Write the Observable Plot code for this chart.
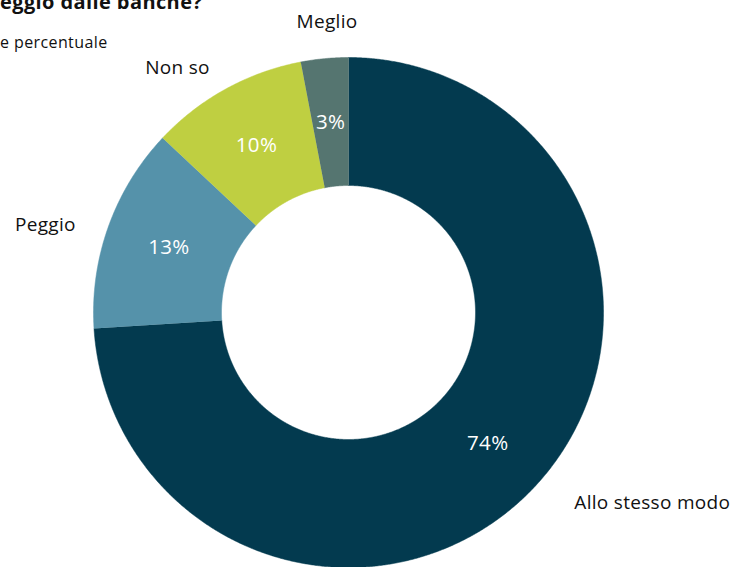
<!DOCTYPE html>
<html>
<head>
<meta charset="utf-8">
<script src="https://cdn.jsdelivr.net/npm/d3@7"></script>
<script src="https://cdn.jsdelivr.net/npm/@observablehq/plot@0.6"></script>
<style>
  html, body { margin: 0; padding: 0; background: #fff; overflow: hidden; width: 736px; height: 567px; }
  #wrap { position: relative; width: 736px; height: 567px; font-family: "Open Sans", sans-serif; }
  #chart { position: absolute; left: 0; top: 0; }
  .title { position: absolute; left: 0; top: -12px; font-size: 20px; letter-spacing: 0.4px; font-weight: bold; color: #111; white-space: nowrap; }
  .subtitle { position: absolute; left: 0; top: 31px; font-size: 16px; letter-spacing: 0.4px; color: #111; white-space: nowrap; }
</style>
</head>
<body>
<div id="wrap">
  <div id="chart"></div>
  <div class="title">eggio dalle banche?</div>
  <div class="subtitle">e percentuale</div>
</div>
<script>
const categories = ["Allo stesso modo", "Peggio", "Non so", "Meglio"];
const values = [74, 13, 10, 3];
const valueLabels = ["74%", "13%", "10%", "3%"];
const colors = ["#033a4f", "#5592aa", "#bfcf41", "#557570"];

const W = 736, H = 567;
const R = 255, r0 = 127, rMid = 191, rOut = 292;

const pie = d3.pie().sort(null).value(d => d)(values);

const poly = [];
pie.forEach((p, i) => {
  const n = Math.max(12, Math.ceil((p.endAngle - p.startAngle) * 200));
  for (let k = 0; k <= n; k++) {
    const a = p.startAngle + (p.endAngle - p.startAngle) * k / n;
    poly.push({cat: categories[i], x: R * Math.sin(a), y: -R * Math.cos(a)});
  }
  for (let k = n; k >= 0; k--) {
    const a = p.startAngle + (p.endAngle - p.startAngle) * k / n;
    poly.push({cat: categories[i], x: r0 * Math.sin(a), y: -r0 * Math.cos(a)});
  }
});

const lab = pie.map((p, i) => {
  const a = (p.startAngle + p.endAngle) / 2;
  const s = Math.sin(a), c = Math.cos(a);
  return {
    cat: categories[i], txt: valueLabels[i],
    mx: rMid * s, my: -rMid * c,
    ox: rOut * s, oy: -rOut * c,
    anchor: Math.abs(s) < 0.2 ? "middle" : (s > 0 ? "start" : "end"),
    upper: c > 0
  };
});

const outer = {x: "ox", y: "oy", text: "cat", fill: "#111", fontSize: 19};
const chart = Plot.plot({
  width: W, height: H,
  margin: 0,
  x: {domain: [-348, W - 348], range: [0, W], axis: null},
  y: {domain: [-312, H - 312], range: [0, H], axis: null},
  color: {domain: categories, range: colors},
  style: {fontFamily: "'Open Sans', sans-serif", background: "#fff", letterSpacing: "0.3px"},
  marks: [
    Plot.line(poly, {x: "x", y: "y", z: "cat", fill: "cat", stroke: "cat", strokeWidth: 0.5}),
    Plot.text(lab, {x: "mx", y: "my", text: "txt", fill: "white", fontSize: 20.5}),
    Plot.text(lab.filter(d => d.anchor === "start"), {...outer, textAnchor: "start", lineAnchor: "bottom", dx: 13, dy: -3}),
    Plot.text(lab.filter(d => d.anchor === "end" && d.upper), {...outer, textAnchor: "end", lineAnchor: "top", dx: 2, dy: 4}),
    Plot.text(lab.filter(d => d.anchor === "end" && !d.upper), {...outer, textAnchor: "end", lineAnchor: "bottom", dx: 2}),
    Plot.text(lab.filter(d => d.anchor === "middle"), {...outer, textAnchor: "middle", lineAnchor: "middle", dx: 6})
  ]
});
document.getElementById("chart").appendChild(chart);
</script>
</body>
</html>
